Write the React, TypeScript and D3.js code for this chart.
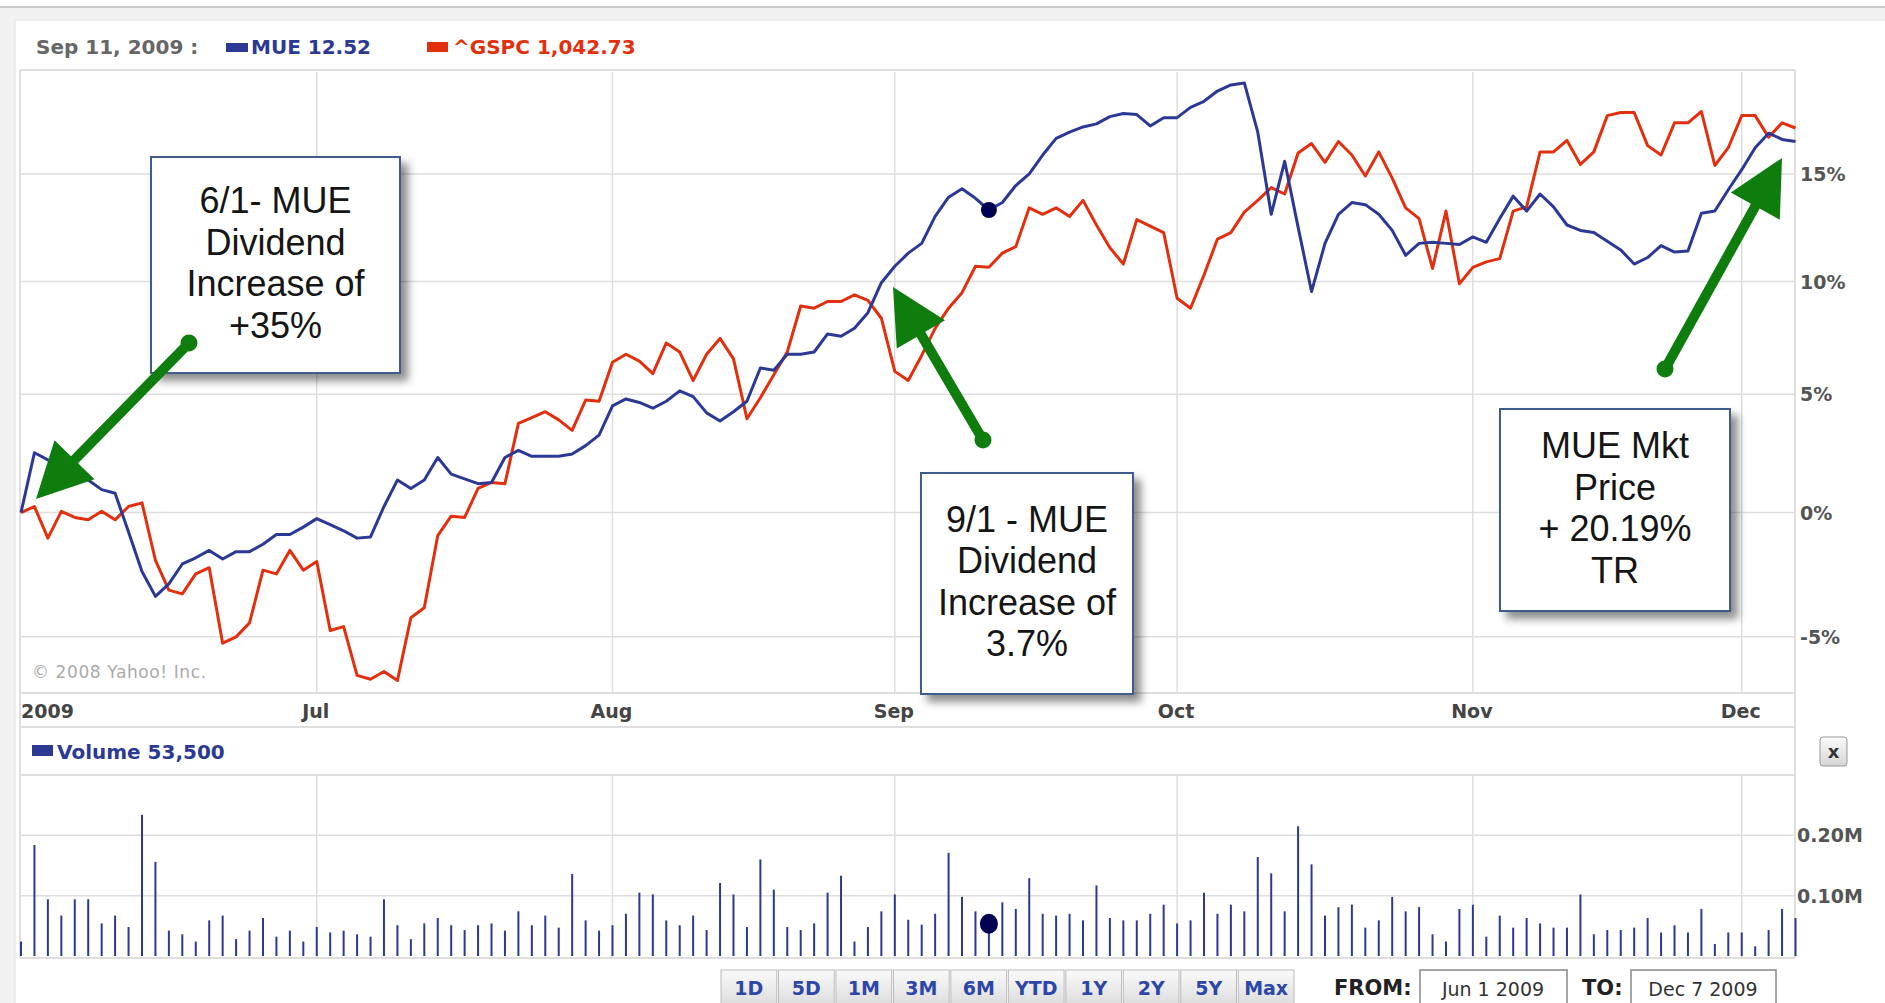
import React from "react";
import * as d3 from "d3";

const W = 1885;
const H = 1003;

// trading-day axis: month labels and the index of each month's first trading day
const monthLabels = ["2009", "Jul", "Aug", "Sep", "Oct", "Nov", "Dec"];
const monthStarts = [0, 22, 44, 65, 86, 108, 128];

// % change since Jun 1 2009, one value per trading day (Jun 1 .. Dec 7)
const mue = [
  0, 2.5, 2.2, 1.95, 1.7, 1.35, 0.95, 0.8, -0.8, -2.4,
  -3.4, -2.9, -2.1, -1.85, -1.55, -1.9, -1.6, -1.6, -1.3, -0.9,
  -0.9, -0.6, -0.25, -0.5, -0.75, -1.05, -1.0, 0.25, 1.35, 1.0,
  1.35, 2.3, 1.6, 1.4, 1.2, 1.25, 2.3, 2.6, 2.35, 2.35,
  2.35, 2.45, 2.8, 3.25, 4.5, 4.8, 4.65, 4.4, 4.7, 5.15,
  4.9, 4.2, 3.85, 4.25, 4.7, 6.15, 6.05, 6.75, 6.75, 6.85,
  7.65, 7.55, 7.9, 8.6, 9.95, 10.7, 11.3, 11.75, 13.0, 13.9,
  14.3, 13.85, 13.3, 13.65, 14.45, 15.0, 15.9, 16.7, 17.0, 17.25,
  17.4, 17.75, 17.9, 17.85, 17.3, 17.7, 17.7, 18.2, 18.5, 19.0,
  19.3, 19.4, 17.0, 13.1, 15.6, 12.5, 9.55, 11.75, 13.1, 13.65,
  13.55, 13.1, 12.35, 11.2, 11.75, 11.8, 11.75, 11.7, 12.05, 11.8,
  12.9, 13.95, 13.25, 14.05, 13.45, 12.6, 12.35, 12.25, 11.85, 11.45,
  10.8, 11.1, 11.65, 11.35, 11.4, 13.15, 13.25, 14.25, 15.2, 16.25,
  16.95, 16.65, 16.55,
];

const gspc = [
  0, 0.25, -1.05, 0.05, -0.2, -0.3, 0.05, -0.3, 0.25, 0.4,
  -1.95, -3.15, -3.3, -2.5, -2.25, -5.25, -5.0, -4.45, -2.35, -2.5,
  -1.55, -2.35, -2.0, -4.75, -4.6, -6.5, -6.65, -6.35, -6.7, -4.25,
  -3.85, -0.95, -0.15, -0.2, 1.0, 1.25, 1.2, 3.75, 4.0, 4.25,
  3.9, 3.45, 4.75, 4.7, 6.4, 6.75, 6.45, 5.9, 7.25, 6.85,
  5.6, 6.75, 7.45, 6.55, 3.95, 4.85, 5.85, 6.85, 8.9, 8.8,
  9.1, 9.1, 9.4, 9.15, 8.35, 6.0, 5.6, 6.7, 7.9, 8.8,
  9.5, 10.7, 10.65, 11.3, 11.6, 13.4, 13.1, 13.4, 13.0, 13.75,
  12.6, 11.55, 10.8, 12.85, 12.55, 12.25, 9.25, 8.8, 10.3, 11.95,
  12.25, 13.2, 13.75, 14.35, 14.05, 16.0, 16.45, 15.55, 16.55, 15.9,
  14.9, 16.05, 14.8, 13.4, 12.9, 10.6, 13.25, 9.9, 10.65, 10.9,
  11.05, 13.25, 13.45, 16.05, 16.05, 16.6, 15.45, 16.05, 17.8, 17.95,
  17.95, 16.35, 15.9, 17.45, 17.45, 18.0, 15.4, 16.25, 17.8, 17.8,
  16.75, 17.45, 17.2,
];

// MUE daily volume, millions of shares
const volume = [
  0.024, 0.184, 0.094, 0.067, 0.094, 0.094, 0.054, 0.067, 0.048, 0.234,
  0.156, 0.042, 0.036, 0.024, 0.059, 0.067, 0.028, 0.042, 0.063, 0.032,
  0.042, 0.024, 0.048, 0.039, 0.042, 0.036, 0.032, 0.094, 0.051, 0.028,
  0.054, 0.063, 0.051, 0.043, 0.051, 0.054, 0.042, 0.074, 0.051, 0.067,
  0.047, 0.136, 0.059, 0.042, 0.051, 0.07, 0.105, 0.102, 0.059, 0.051,
  0.067, 0.043, 0.121, 0.102, 0.048, 0.16, 0.11, 0.048, 0.043, 0.054,
  0.105, 0.133, 0.024, 0.048, 0.074, 0.102, 0.06, 0.052, 0.07, 0.171,
  0.098, 0.074, 0.0535, 0.089, 0.078, 0.129, 0.07, 0.067, 0.07, 0.059,
  0.117, 0.063, 0.059, 0.059, 0.07, 0.085, 0.054, 0.059, 0.105, 0.07,
  0.085, 0.074, 0.164, 0.137, 0.074, 0.215, 0.152, 0.067, 0.081, 0.085,
  0.047, 0.059, 0.098, 0.074, 0.081, 0.036, 0.024, 0.078, 0.085, 0.032,
  0.067, 0.047, 0.063, 0.054, 0.047, 0.047, 0.102, 0.036, 0.043, 0.043,
  0.047, 0.063, 0.039, 0.051, 0.039, 0.078, 0.02, 0.039, 0.039, 0.016,
  0.043, 0.078, 0.063,
];

const pctTicks = [-5, 0, 5, 10, 15];
const volTicks = [0.1, 0.2, 0.3];
const hoverIndex = 72;
const hoverDate = "Sep 11, 2009 :";
const hoverMue = "MUE  12.52";
const hoverGspc = "^GSPC  1,042.73";
const hoverVolume = "Volume  53,500";
const rangeButtons = ["1D", "5D", "1M", "3M", "6M", "YTD", "1Y", "2Y", "5Y", "Max"];

// pasted-on callouts (pixel layout)
const callouts = [
  { lines: ["6/1- MUE", "Dividend", "Increase of", "+35%"], box: [151, 157, 249, 216], tail: [189, 343], tip: [36, 499] },
  { lines: ["9/1 - MUE", "Dividend", "Increase of", "3.7%"], box: [921, 473, 212, 221], tail: [983, 440], tip: [893, 287] },
  { lines: ["MUE Mkt", "Price", "+ 20.19%", "TR"], box: [1500, 409, 230, 202], tail: [1665, 369], tip: [1782, 158] },
];

const BLUE = "#2b3994";
const RED = "#e2300f";
const GRID = "#dedede";
const GREEN = "#0e7d0e";
const LABEL = "'DejaVu Sans', Verdana, sans-serif";

function arrowPath(tail: number[], tip: number[]) {
  const [x0, y0] = tail;
  const [x1, y1] = tip;
  const len = Math.hypot(x1 - x0, y1 - y0);
  const ux = (x1 - x0) / len, uy = (y1 - y0) / len;
  const px = -uy, py = ux;
  const headLen = 55, headHalf = 28, shaft = 5;
  const bx = x1 - ux * headLen, by = y1 - uy * headLen;
  const pts = [
    [x0 + px * shaft, y0 + py * shaft],
    [bx + px * shaft, by + py * shaft],
    [bx + px * headHalf, by + py * headHalf],
    [x1, y1],
    [bx - px * headHalf, by - py * headHalf],
    [bx - px * shaft, by - py * shaft],
    [x0 - px * shaft, y0 - py * shaft],
  ];
  return "M" + pts.map((p) => p.join(",")).join("L") + "Z";
}

export default function App() {
  const n = mue.length;
  const x = d3.scaleLinear().domain([0, n - 1]).range([21, 1795.5]);
  const y = d3.scaleLog().domain([0.929, 1.1994]).range([691, 72]);
  const yv = d3.scaleLinear().domain([0, 0.3]).range([956, 775]);
  const left = 20, right = 1795;

  const line = d3.line<number>().x((_, i) => x(i)).y((d) => y(1 + d / 100));
  const buttons = d3.scaleBand<string>().domain(rangeButtons).range([721, 1294]).paddingInner(0.03);

  return (
    <svg width={W} height={H} style={{ position: "absolute", left: 0, top: 0 }}>
      <defs>
        <filter id="shadow" x="-10%" y="-10%" width="130%" height="130%">
          <feDropShadow dx="7" dy="7" stdDeviation="4" floodColor="#000" floodOpacity="0.45" />
        </filter>
        <linearGradient id="btn" x1="0" y1="0" x2="0" y2="1">
          <stop offset="0" stopColor="#fbfbfb" />
          <stop offset="1" stopColor="#d6d6d6" />
        </linearGradient>
      </defs>

      {/* frame */}
      <rect x={0} y={0} width={W} height={H} fill="#fff" />
      <rect x={0} y={7} width={W} height={H} fill="#f1f1f1" />
      <line x1={0} x2={W} y1={7} y2={7} stroke="#c9c9c9" strokeWidth={2} />
      <rect x={15} y={20} width={W} height={H} fill="#fff" stroke="#e2e2e2" />

      {/* header legend */}
      <g fontFamily={LABEL} fontWeight="bold" fontSize={20} dominantBaseline="central">
        <text x={36} y={47} fill="#666">{hoverDate}</text>
        <rect x={226} y={43} width={22} height={9} fill={BLUE} />
        <text x={251} y={47} fill={BLUE}>{hoverMue}</text>
        <rect x={427} y={42} width={21} height={10} fill={RED} />
        <text x={453} y={47} fill={RED}>{hoverGspc}</text>
      </g>
      <line x1={left} x2={right} y1={70} y2={70} stroke={GRID} strokeWidth={2} />

      {/* price panel grid */}
      {pctTicks.map((t) => (
        <g key={t}>
          <line x1={left} x2={right} y1={y(1 + t / 100)} y2={y(1 + t / 100)} stroke={GRID} strokeWidth={1.5} />
          <text x={1800} y={y(1 + t / 100)} dominantBaseline="central" fontFamily={LABEL} fontWeight="bold" fontSize={19} fill="#555">
            {t + "%"}
          </text>
        </g>
      ))}
      {monthStarts.slice(1).map((m) => (
        <line key={m} x1={x(m)} x2={x(m)} y1={72} y2={692} stroke={GRID} strokeWidth={1.5} />
      ))}
      <line x1={left} x2={left} y1={70} y2={958} stroke={GRID} strokeWidth={2} />
      <line x1={right} x2={right} y1={70} y2={958} stroke={GRID} strokeWidth={2} />
      <line x1={left} x2={right} y1={693} y2={693} stroke={GRID} strokeWidth={2} />
      <line x1={left} x2={right} y1={727} y2={727} stroke={GRID} strokeWidth={2} />

      <text x={32} y={672} dominantBaseline="central" fontFamily={LABEL} fontSize={17} fill="#aaa" letterSpacing={0.6}>
        © 2008 Yahoo! Inc.
      </text>

      {/* series */}
      <path d={line(gspc) ?? ""} fill="none" stroke={RED} strokeWidth={3} strokeLinejoin="round" />
      <path d={line(mue) ?? ""} fill="none" stroke={BLUE} strokeWidth={3} strokeLinejoin="round" />
      <circle cx={x(hoverIndex)} cy={y(1 + mue[hoverIndex] / 100)} r={8} fill="#000050" />

      {/* month labels */}
      <g fontFamily={LABEL} fontWeight="bold" fontSize={19} fill="#444" dominantBaseline="central">
        {monthLabels.map((m, i) => (
          <text key={m} x={i === 0 ? 21 : x(monthStarts[i]) - 1} y={711} textAnchor={i === 0 ? "start" : "middle"}>
            {m}
          </text>
        ))}
      </g>

      {/* volume panel */}
      <rect x={32} y={745} width={21} height={11} fill={BLUE} />
      <text x={57} y={752} dominantBaseline="central" fontFamily={LABEL} fontWeight="bold" fontSize={20} fill={BLUE}>
        {hoverVolume}
      </text>
      {volTicks.map((t) => (
        <g key={t}>
          <line x1={left} x2={right} y1={yv(t)} y2={yv(t)} stroke={GRID} strokeWidth={t === 0.3 ? 2 : 1.5} />
          {t < 0.3 && (
            <text x={1797} y={yv(t)} dominantBaseline="central" fontFamily={LABEL} fontWeight="bold" fontSize={19} fill="#555">
              {t.toFixed(2) + "M"}
            </text>
          )}
        </g>
      ))}
      {monthStarts.slice(1).map((m) => (
        <line key={m} x1={x(m)} x2={x(m)} y1={775} y2={957} stroke={GRID} strokeWidth={1.5} />
      ))}
      <line x1={left} x2={right} y1={958} y2={958} stroke={GRID} strokeWidth={2} />
      {volume.map((v, i) => (
        <line key={i} x1={x(i)} x2={x(i)} y1={yv(0)} y2={yv(v)} stroke={BLUE} strokeWidth={2} />
      ))}
      <ellipse cx={x(hoverIndex)} cy={yv(volume[hoverIndex])} rx={9} ry={10} fill="#000050" />

      {/* close button */}
      <rect x={1820} y={737} width={27} height={29} rx={3} fill="url(#btn)" stroke="#999" />
      <text x={1833.5} y={751} textAnchor="middle" dominantBaseline="central" fontFamily={LABEL} fontWeight="bold" fontSize={18} fill="#333">x</text>

      {/* range buttons */}
      <g fontFamily={LABEL} fontWeight="bold" fontSize={19}>
        {rangeButtons.map((b) => (
          <g key={b}>
            <rect x={buttons(b)} y={970} width={buttons.bandwidth()} height={42} fill="url(#btn)" stroke="#bbb" />
            <text x={(buttons(b) ?? 0) + buttons.bandwidth() / 2} y={988} textAnchor="middle" dominantBaseline="central" fill="#2d47a8">
              {b}
            </text>
          </g>
        ))}
        <text x={1334} y={988} dominantBaseline="central" fill="#222" fontSize={21}>FROM:</text>
        <text x={1582} y={988} dominantBaseline="central" fill="#222" fontSize={21}>TO:</text>
      </g>
      <g fontFamily={LABEL} fontSize={19} fill="#333">
        <rect x={1420} y={970} width={147} height={42} fill="#fff" stroke="#888" strokeWidth={1.5} />
        <text x={1493} y={989} textAnchor="middle" dominantBaseline="central">Jun 1 2009</text>
        <rect x={1631} y={970} width={145} height={42} fill="#fff" stroke="#888" strokeWidth={1.5} />
        <text x={1703} y={989} textAnchor="middle" dominantBaseline="central">Dec 7 2009</text>
      </g>

      {/* callouts */}
      {callouts.map((c, k) => {
        const [bx, by, bw, bh] = c.box;
        const cx = bx + bw / 2;
        const gap = 41.5;
        const y0 = by + bh / 2 - (gap * (c.lines.length - 1)) / 2 - 2;
        return (
          <g key={k}>
            <rect x={bx} y={by} width={bw} height={bh} fill="#fff" stroke="#3f5b8c" strokeWidth={2} filter="url(#shadow)" />
            {c.lines.map((t, j) => (
              <text key={j} x={cx} y={y0 + j * gap} textAnchor="middle" dominantBaseline="central"
                fontFamily="'Liberation Sans', Arial, sans-serif" fontSize={36} fill="#151515">
                {t}
              </text>
            ))}
            <path d={arrowPath(c.tail, c.tip)} fill={GREEN} />
            <circle cx={c.tail[0]} cy={c.tail[1]} r={8.5} fill={GREEN} />
          </g>
        );
      })}
    </svg>
  );
}
